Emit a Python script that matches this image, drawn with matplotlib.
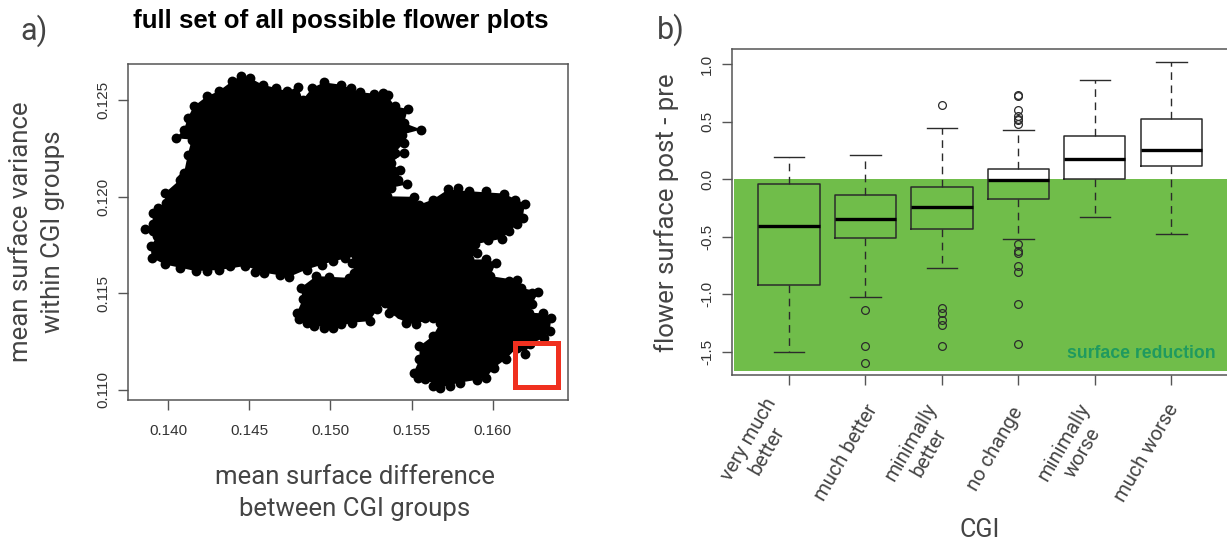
#!/usr/bin/env python3
"""Flower plot summary: a) all possible flower plots, b) surface change per CGI group."""

import matplotlib
matplotlib.use("Agg")
import matplotlib.pyplot as plt
from matplotlib.patches import Rectangle

W, H = 1227, 542

# a) points on the rim of the point cloud, read off the ticks
flower_x = [
    .13859, .13906, .13906, .13939, .13986, .13981, .14075, .14099, .14122, .14146, .14047, .14099,
    .14122, .14158, .14240, .14311, .14393, .14448, .14504, .14582, .14664, .14735, .14801, .14829,
    .14888, .14959, .15065, .15183, .15265, .15352, .15395, .15477, .15453, .15559, .15442, .15453,
    .15395, .15453, .15371, .15430, .15418, .15470, .15371, .15347, .15512, .15548, .15630, .15724,
    .15854, .16066, .16196, .16184, .16148, .16054, .15889, .15901, .15854, .15960, .16019, .15984,
    .16148, .16172, .16278, .16243, .16219, .16309, .16360, .16349, .16313, .16231, .16196, .16148,
    .16078, .16007, .15960, .15901, .15795, .15677, .15583, .15512, .15548, .15548, .15630, .15677,
    .15630, .15524, .15465, .15359, .15336, .15289, .15241, .15135, .15018, .14900, .14806, .14794,
    .14829, .14817, .14912, .15112, .15147, .15135, .15159, .15018, .14853, .14747, .14594, .14476,
    .14311, .14170, .13981, .13899, .13894, .13934, .13910,
]
flower_y = [
    .11830, .11856, .11916, .11942, .11968, .12019, .12088, .12123, .12217, .12295, .12302, .12347,
    .12407, .12467, .12519, .12545, .12596, .12626, .12614, .12579, .12562, .12545, .12567, .12502,
    .12562, .12591, .12579, .12540, .12533, .12524, .12467, .12453, .12381, .12347, .12321, .12278,
    .12226, .12226, .12174, .12137, .12088, .12063, .12045, .12002, .11999, .11959, .11985, .12037,
    .12028, .12016, .11964, .11890, .11856, .11782, .11753, .11709, .11675, .11675, .11658, .11589,
    .11568, .11529, .11508, .11443, .11400, .11396, .11374, .11305, .11270, .11236, .11188, .11219,
    .11158, .11115, .11064, .11052, .11038, .11012, .11055, .11090, .11158, .11227, .11279, .11348,
    .11374, .11339, .11348, .11400, .11451, .11417, .11356, .11348, .11322, .11331, .11365, .11400,
    .11468, .11529, .11589, .11580, .11606, .11658, .11692, .11666, .11623, .11585, .11606, .11641,
    .11620, .11615, .11649, .11684, .11744, .11796, .11821,
]
# more rim points where the outline above has long gaps
rim_x = [
    .14075, .14240, .14382, .14535, .14688, .14947, .15088, .15783, .15960, .16137, .16101, .15972,
    .15324, .15124, .14087, .14005, .13946, .15583, .15430, .15065, .14959, .14853, .14994, .15866,
    .15630, .15736, .15536, .16290, .16101, .16243,
]
rim_y = [
    .11632, .11615, .11641, .11611, .11592, .11644, .11684, .12045, .12028, .11982, .11821, .11778,
    .12536, .12562, .12097, .12002, .11916, .11374, .11391, .11339, .11322, .11348, .11585, .11090,
    .11021, .11021, .11064, .11348, .11563, .11503,
]
x_ticks_a = [0.140, 0.145, 0.150, 0.155, 0.160]
y_ticks_a = [0.110, 0.115, 0.120, 0.125]

# b) boxplot numbers per CGI group
cgi_labels = ["very much\nbetter", "much better", "minimally\nbetter", "no change", "minimally\nworse", "much worse"]
whisker_low = [-1.50, -1.02, -0.775, -0.52, -0.33, -0.48]
box_low = [-0.92, -0.51, -0.435, -0.175, 0.00, 0.11]
medians = [-0.41, -0.345, -0.24, -0.01, 0.176, 0.254]
box_high = [-0.04, -0.14, -0.07, 0.085, 0.373, 0.526]
whisker_high = [0.19, 0.21, 0.44, 0.43, 0.86, 1.015]
outliers = [
    [],
    [-1.135, -1.45, -1.60],
    [0.647, -1.12, -1.16, -1.22, -1.27, -1.445],
    [0.735, 0.725, 0.60, 0.545, 0.525, 0.51, 0.475, -0.565, -0.625, -0.645, -0.755, -0.81, -1.08, -1.43],
    [],
    [],
]
y_ticks_b = [-1.5, -1.0, -0.5, 0.0, 0.5, 1.0]

LIGHT = {"family": ["Roboto", "DejaVu Sans"], "color": "#444444"}
TICK = {"family": ["Liberation Sans"], "color": "#333333"}


def px_axes(fig, left, top, right, bottom):
    return fig.add_axes([left / W, 1 - bottom / H, (right - left) / W, (bottom - top) / H])


def px_text(fig, x, y, s, **kw):
    kw.setdefault("ha", "center")
    kw.setdefault("va", "center")
    fig.text(x / W, 1 - y / H, s, **kw)


def style_axes(ax):
    for side in ax.spines.values():
        side.set_color("#555555")
        side.set_linewidth(1.1)
    ax.tick_params(length=7, width=1, color="#555555", labelsize=11, labelcolor="#333333")
    for lab in ax.get_xticklabels() + ax.get_yticklabels():
        lab.set_family(TICK["family"])


fig = plt.figure(figsize=(W / 100, H / 100), dpi=100)

# panel a
ax = px_axes(fig, 128, 64, 568, 400)
ax.fill(flower_x, flower_y, color="black", lw=0)
ax.scatter(flower_x, flower_y, s=50, c="black", lw=0)
ax.scatter(rim_x, rim_y, s=50, c="black", lw=0)
ax.set_xlim(0.13754, 0.16462)
ax.set_ylim(0.10948, 0.12686)
ax.set_xticks(x_ticks_a, [f"{v:.3f}" for v in x_ticks_a])
ax.set_yticks(y_ticks_a, [f"{v:.3f}" for v in y_ticks_a])
style_axes(ax)
ax.tick_params(axis="y", labelrotation=90, pad=6)
for lab in ax.get_yticklabels():
    lab.set_va("center")
ax.tick_params(axis="x", pad=10)
ax.add_patch(Rectangle((0.16138, 0.11013), 0.00264, 0.00228, fill=False, ec="#f0301f", lw=3.6, zorder=5))

# panel b
bx = px_axes(fig, 732, 49, 1228, 375)
bx.set_xlim(0.256, 6.74)
bx.set_ylim(-1.70, 1.13)
bx.axhspan(-1.665, -0.002, xmin=0.004, xmax=1, color="#70bd4a", lw=0, zorder=0)
stats = [
    {"whislo": wl, "q1": q1, "med": m, "q3": q3, "whishi": wh, "fliers": fl}
    for wl, q1, m, q3, wh, fl in zip(whisker_low, box_low, medians, box_high, whisker_high, outliers)
]
edge = "#2b2b2b"
bx.bxp(
    stats,
    positions=range(1, 7),
    widths=0.8,
    capwidths=0.4,
    boxprops={"color": edge, "lw": 1.1},
    medianprops={"color": "black", "lw": 2.4, "solid_capstyle": "butt"},
    whiskerprops={"color": edge, "lw": 1.0, "linestyle": (0, (5.5, 4))},
    capprops={"color": edge, "lw": 1.0},
    flierprops={"marker": "o", "mfc": "none", "mec": edge, "mew": 0.9, "ms": 5.6},
)
bx.set_xlim(0.256, 6.74)
bx.set_xticks(range(1, 7), [""] * 6)
bx.set_yticks(y_ticks_b, [f"{v:.1f}" for v in y_ticks_b])
style_axes(bx)
bx.tick_params(axis="y", labelrotation=90, pad=6)
for lab in bx.get_yticklabels():
    lab.set_va("center")
bx.spines["right"].set_visible(False)
bx.text(6.58, -1.515, "surface reduction", color="#1f9a5f", fontsize=12.7, fontweight="bold",
        family="Liberation Sans", ha="right", va="center")

# rotated group names sit below the ticks
for xpos, ypos, lab in zip([758, 846, 920, 995, 1073, 1147], [445, 453, 447, 449, 447, 453], cgi_labels):
    px_text(fig, xpos, ypos, lab, rotation=60, fontsize=14.5, linespacing=1.15, multialignment="center", **LIGHT)

# titles and axis names
px_text(fig, 341, 21, "full set of all possible flower plots", fontsize=18.6, fontweight="bold",
        family="Liberation Sans", color="black")
px_text(fig, 34, 31, "a)", fontsize=22, **LIGHT)
px_text(fig, 671, 30, "b)", fontsize=22, **LIGHT)
px_text(fig, 37, 232, "mean surface variance\nwithin CGI groups", rotation=90, fontsize=18.5, linespacing=1.4, **LIGHT)
px_text(fig, 355, 493, "mean surface difference\nbetween CGI groups", fontsize=18.5, linespacing=1.4, **LIGHT)
px_text(fig, 667, 213, "flower surface post - pre", rotation=90, fontsize=18.5, **LIGHT)
px_text(fig, 980, 530, "CGI", fontsize=18, **LIGHT)

fig.savefig("out.png", dpi=100)
